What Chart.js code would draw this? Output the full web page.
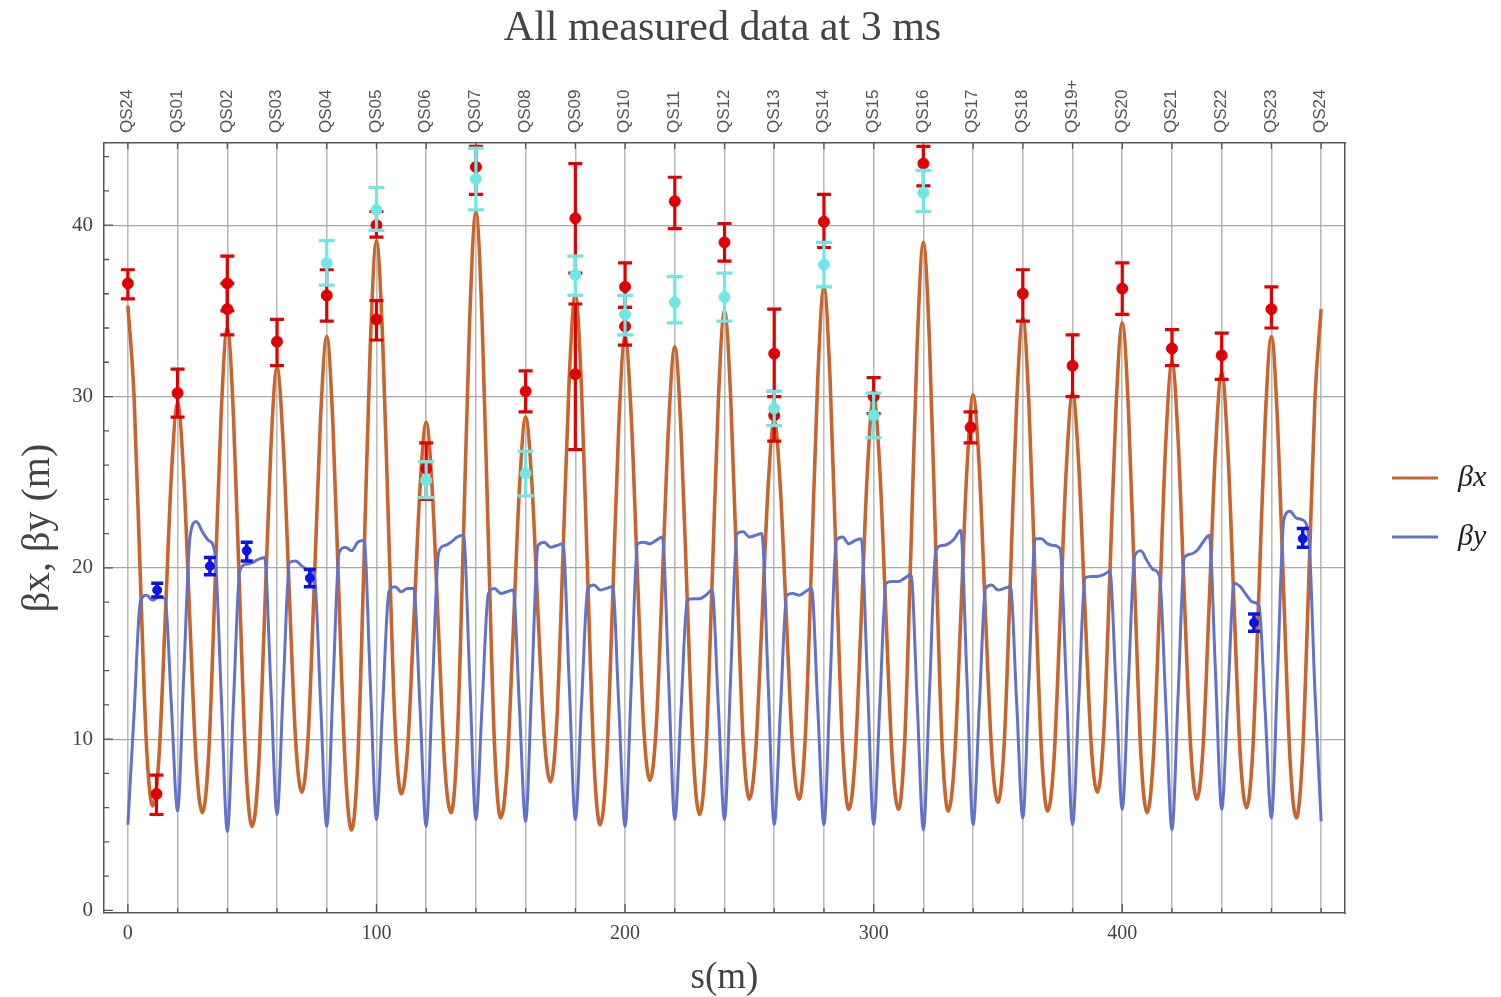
<!DOCTYPE html>
<html><head><meta charset="utf-8">
<script src="https://cdn.jsdelivr.net/npm/chart.js@4.4.0/dist/chart.umd.min.js"></script>
<style>html,body{margin:0;padding:0;background:#fff;}</style>
</head><body>
<canvas id="c" width="1501" height="997"></canvas>
<script>
// ---- data ----
const sGrid = [0,2.5,5,7.5,10,12.5,15,17.5,20,22.5,25,27.5,30,32.5,35,37.5,40,42.5,45,47.5,50,52.5,55,57.5,60,62.5,65,67.5,70,72.5,75,77.5,80,82.5,85,87.5,90,92.5,95,97.5,100,102.5,105,107.5,110,112.5,115,117.5,120,122.5,125,127.5,130,132.5,135,137.5,140,142.5,145,147.5,150,152.5,155,157.5,160,162.5,165,167.5,170,172.5,175,177.5,180,182.5,185,187.5,190,192.5,195,197.5,200,202.5,205,207.5,210,212.5,215,217.5,220,222.5,225,227.5,230,232.5,235,237.5,240,242.5,245,247.5,250,252.5,255,257.5,260,262.5,265,267.5,270,272.5,275,277.5,280,282.5,285,287.5,290,292.5,295,297.5,300,302.5,305,307.5,310,312.5,315,317.5,320,322.5,325,327.5,330,332.5,335,337.5,340,342.5,345,347.5,350,352.5,355,357.5,360,362.5,365,367.5,370,372.5,375,377.5,380,382.5,385,387.5,390,392.5,395,397.5,400,402.5,405,407.5,410,412.5,415,417.5,420,422.5,425,427.5,430,432.5,435,437.5,440,442.5,445,447.5,450,452.5,455,457.5,460,462.5,465,467.5,470,472.5,475,477.5,480];

const betaX = [
35.3,30.0,19.5,9.6,6.1,8.9,16.9,25.4,
29.6,25.3,16.7,8.6,5.7,9.1,18.7,28.9,
34.0,28.8,18.3,8.4,4.9,8.1,17.2,26.9,
31.7,27.2,18.3,9.9,6.9,10.1,19.1,28.7,
33.5,28.3,17.9,8.2,4.7,8.8,20.5,32.9,
39.1,33.3,21.7,10.7,6.8,9.4,16.8,24.6,
28.5,24.4,16.2,8.4,5.7,9.9,21.8,34.5,
40.8,34.4,21.7,9.6,5.4,8.2,16.2,24.6,
28.8,25.0,17.3,10.1,7.5,10.9,20.6,30.9,
36.0,30.4,19.3,8.7,5.0,8.4,18.1,28.4,
33.5,28.8,19.5,10.7,7.6,10.6,19.2,28.3,
32.9,28.0,18.2,8.9,5.6,9.1,19.1,29.7,
35.0,29.9,19.6,9.9,6.5,9.2,16.7,24.6,
28.6,24.6,16.7,9.2,6.5,10.1,20.3,31.0,
36.4,30.9,19.9,9.6,5.9,8.8,17.0,25.7,
30.0,25.7,17.0,8.8,5.9,9.9,21.1,33.0,
39.0,33.0,21.1,9.8,5.8,8.7,17.0,25.7,
30.1,25.8,17.2,9.2,6.3,9.7,19.3,29.5,
34.6,29.4,19.0,9.3,5.8,8.7,17.0,25.8,
30.2,26.0,17.6,9.7,6.9,10.2,19.5,29.4,
34.3,29.2,18.9,9.1,5.7,8.9,17.8,27.3,
32.0,27.4,18.2,9.6,6.5,9.5,18.0,26.9,
31.4,26.8,17.7,9.0,6.0,9.3,18.7,28.6,
33.5,28.4,18.3,8.8,5.4,9.0,19.1,29.8,
35.1];

const betaY = [
5.0,11.5,18.0,18.4,18.1,18.3,18.2,12.0,
5.8,13.8,21.8,22.7,22.1,21.6,20.9,12.8,
4.6,12.2,19.8,20.2,20.3,20.5,20.6,13.1,
5.6,13.0,20.3,20.4,20.1,19.9,19.6,12.2,
4.9,13.0,20.9,21.2,21.0,21.5,21.6,13.4,
5.3,12.0,18.6,18.9,18.6,18.8,18.8,11.9,
4.9,13.0,20.9,21.3,21.5,21.8,21.9,13.6,
5.3,12.0,18.5,18.8,18.5,18.6,18.7,11.9,
5.2,13.3,21.3,21.5,21.2,21.3,21.4,13.4,
5.3,12.1,18.8,19.0,18.7,18.8,18.9,11.9,
4.9,13.2,21.4,21.5,21.4,21.6,21.8,13.6,
5.3,11.7,18.1,18.2,18.2,18.4,18.7,12.0,
5.3,13.7,22.0,22.1,21.8,21.9,22.0,13.5,
5.0,11.7,18.4,18.5,18.4,18.6,18.8,11.9,
5.0,13.3,21.6,21.8,21.4,21.6,21.7,13.4,
5.0,12.1,19.1,19.2,19.2,19.4,19.6,12.2,
4.7,12.9,21.0,21.3,21.4,21.7,22.2,13.6,
5.0,11.9,18.8,19.0,18.7,18.8,18.9,12.2,
5.4,13.6,21.7,21.7,21.4,21.3,21.1,13.1,
5.0,12.2,19.4,19.5,19.5,19.6,19.8,12.9,
5.9,13.4,20.7,21.0,20.4,19.9,19.5,12.1,
4.7,12.7,20.6,20.8,21.0,21.5,21.9,13.9,
5.9,12.5,19.1,18.9,18.4,18.0,17.8,11.6,
5.4,14.0,22.8,23.3,22.9,22.8,21.8,12.8,
5.2];

const quadS = [0,20,40,60,80,100,120,140,160,180,200,220,240,260,280,300,320,340,360,380,400,420,440,460,480];
const quadNames = ['QS24','QS01','QS02','QS03','QS04','QS05','QS06','QS07','QS08','QS09','QS10','QS11','QS12','QS13','QS14','QS15','QS16','QS17','QS18','QS19+','QS20','QS21','QS22','QS23','QS24'];
const yMajor = [0,10,20,30,40];

// measured beta-x (red)
const redS   = [0,11.5,20,40,40,60,80,100,100,120,140,160,180,180,200,200,220,240,260,260,280,300,320,339,360,380,400,420,440,460];
const redVal = [36.6,6.8,30.2,36.6,35.1,33.2,35.9,40.0,34.5,25.8,43.4,30.3,40.4,31.3,36.4,34.1,41.4,39.0,32.5,28.9,40.2,30.0,43.6,28.2,36.0,31.8,36.3,32.8,32.4,35.1];
const redLo  = [35.7,5.6,28.8,35.0,33.6,31.8,34.4,39.3,33.3,24.0,41.8,29.1,37.2,26.9,35.2,33.0,39.8,37.9,30.0,27.4,38.7,29.0,42.3,27.3,34.4,30.0,34.8,31.8,31.0,34.0];
const redHi  = [37.4,7.9,31.6,38.2,36.6,34.5,37.4,40.8,35.6,27.3,44.6,31.5,43.6,35.4,37.8,35.2,42.8,40.1,35.1,30.3,41.8,31.1,44.6,29.1,37.4,33.6,37.8,33.9,33.7,36.4];

// measured (cyan)
const cyanS   = [80,100,120,140,160,180,200,220,240,260,280,300,320];
const cyanVal = [37.8,40.9,25.1,42.7,25.5,37.1,34.8,35.5,35.8,29.3,37.7,28.9,41.9];
const cyanLo  = [36.5,39.7,24.1,40.9,24.2,35.9,33.6,34.3,34.4,28.3,36.4,27.6,40.8];
const cyanHi  = [39.1,42.2,26.2,44.5,26.8,38.2,35.9,37.0,37.2,30.3,39.0,30.2,43.2];

// measured beta-y (blue)
const blueS   = [11.8,33.0,47.8,73.2,453.0,472.6];
const blueVal = [18.7,20.1,21.0,19.4,16.8,21.7];
const blueLo  = [18.3,19.6,20.4,18.9,16.3,21.2];
const blueHi  = [19.1,20.6,21.5,19.9,17.3,22.3];

// ---- styling ----
const SERIF = "'Liberation Serif','DejaVu Serif',serif";
const SANS = "'Liberation Sans','DejaVu Sans',sans-serif";
const ORANGE = '#C9652C', BLUE = '#6272CC', RED = '#E00000', CYAN = '#70E6E6', DBLUE = '#0A14E6';
const FRAME = '#555555';

const pts = (xs, ys) => xs.map((x, i) => ({x: x, y: ys[i]}));

const errorBars = {
  id: 'errorBars',
  beforeDatasetDraw(chart, args) {
    const ds = chart.data.datasets[args.index];
    if (!ds.errLo) return;
    const ctx = chart.ctx, xs = chart.scales.x, ys = chart.scales.y;
    ctx.save();
    ctx.strokeStyle = ds.errColor;
    ctx.lineWidth = ds.errWidth;
    ds.data.forEach((p, i) => {
      const px = xs.getPixelForValue(p.x);
      const yl = ys.getPixelForValue(ds.errLo[i]);
      const yh = ys.getPixelForValue(ds.errHi[i]);
      const c = ds.capHalf;
      ctx.beginPath();
      ctx.moveTo(px, yl); ctx.lineTo(px, yh);
      ctx.moveTo(px - c, yl); ctx.lineTo(px + c, yl);
      ctx.moveTo(px - c, yh); ctx.lineTo(px + c, yh);
      ctx.stroke();
    });
    ctx.restore();
  }
};

const frameTicks = {
  id: 'frameTicks',
  beforeDatasetsDraw(chart) {
    const ctx = chart.ctx, a = chart.chartArea, xs = chart.scales.x, ys = chart.scales.y;
    ctx.save();
    ctx.strokeStyle = FRAME;
    ctx.lineWidth = 1.3;
    ctx.beginPath();
    quadS.forEach(v => {
      const px = xs.getPixelForValue(v);
      const len = (v % 100 === 0) ? 9 : 5;
      ctx.moveTo(px, a.bottom); ctx.lineTo(px, a.bottom - len);
      ctx.moveTo(px, a.top); ctx.lineTo(px, a.top + 6);
    });
    for (let v = 0; v <= 44; v += 2) {
      const py = ys.getPixelForValue(v);
      const len = (v % 10 === 0) ? 9 : 5;
      ctx.moveTo(a.left, py); ctx.lineTo(a.left + len, py);
    }
    ctx.stroke();
    ctx.restore();
  }
};

const sideLegend = {
  id: 'sideLegend',
  afterDraw(chart) {
    const ctx = chart.ctx;
    const items = chart.data.datasets.filter(d => d.inLegend);
    ctx.save();
    items.forEach((d, i) => {
      const y = 478 + i * 59;
      ctx.strokeStyle = d.borderColor;
      ctx.lineWidth = 3;
      ctx.beginPath(); ctx.moveTo(1392, y); ctx.lineTo(1438, y); ctx.stroke();
      ctx.fillStyle = '#222';
      ctx.font = "italic 30px " + SERIF;
      ctx.textBaseline = 'middle';
      ctx.textAlign = 'left';
      ctx.fillText(d.label, 1458, y);
    });
    ctx.restore();
  }
};

new Chart(document.getElementById('c'), {
  type: 'line',
  data: {
    datasets: [
      {label: 'βx', data: pts(sGrid, betaX), borderColor: ORANGE, borderWidth: 3.6, pointRadius: 0,
       cubicInterpolationMode: 'monotone', order: 6, inLegend: true},
      {label: 'βy', data: pts(sGrid, betaY), borderColor: BLUE, borderWidth: 3, pointRadius: 0,
       cubicInterpolationMode: 'monotone', order: 5, inLegend: true},
      {type: 'scatter', label: 'βx measured', data: pts(redS, redVal), backgroundColor: RED, borderColor: RED,
       pointRadius: 5.5, errLo: redLo, errHi: redHi, errColor: RED, errWidth: 3.2, capHalf: 7, order: 3},
      {type: 'scatter', label: 'measured (cyan)', data: pts(cyanS, cyanVal), backgroundColor: CYAN, borderColor: CYAN,
       pointRadius: 5.5, errLo: cyanLo, errHi: cyanHi, errColor: CYAN, errWidth: 3.2, capHalf: 8, order: 2},
      {type: 'scatter', label: 'βy measured', data: pts(blueS, blueVal), backgroundColor: DBLUE, borderColor: DBLUE,
       pointRadius: 4.5, errLo: blueLo, errHi: blueHi, errColor: DBLUE, errWidth: 3.5, capHalf: 6, order: 1}
    ]
  },
  options: {
    responsive: false, animation: false, devicePixelRatio: 1,
    layout: {padding: {left: 0, right: 56, top: 0, bottom: 0}},
    plugins: {
      legend: {display: false},
      tooltip: {enabled: false},
      title: {display: true, text: 'All measured data at 3 ms', color: '#444',
              font: {family: SERIF, size: 42, weight: 'normal'}, padding: {top: 4, bottom: 0}}
    },
    scales: {
      x: {
        type: 'linear', position: 'bottom', min: -9.6, max: 489.6,
        afterBuildTicks: s => { s.ticks = quadS.map(v => ({value: v})); },
        afterFit: s => { s.height = 84; },
        ticks: {autoSkip: false, minRotation: 0, maxRotation: 0, padding: 9, color: '#444',
                font: {family: SERIF, size: 20}, callback: v => (v % 100 === 0 ? String(v) : '')},
        grid: {color: '#bdbdbd', lineWidth: 1.6, drawTicks: false},
        border: {display: true, color: FRAME, width: 1.5},
        title: {display: true, text: 's(m)', color: '#444', font: {family: SERIF, size: 37, lineHeight: 1}, padding: {top: 0, bottom: 0}}
      },
      x2: {
        type: 'linear', position: 'top', min: -9.6, max: 489.6,
        afterBuildTicks: s => { s.ticks = quadS.map(v => ({value: v})); },
        afterFit: s => { s.height = 88.6; },
        ticks: {autoSkip: false, minRotation: 90, maxRotation: 90, padding: 10, labelOffset: 20, color: '#555',
                font: {family: SANS, size: 17}, callback: (v, i) => quadNames[i]},
        grid: {display: false, drawTicks: false},
        border: {display: true, color: FRAME, width: 1.5}
      },
      y: {
        type: 'linear', position: 'left', min: -0.15, max: 44.8,
        afterBuildTicks: s => { s.ticks = yMajor.map(v => ({value: v})); },
        afterFit: s => { s.width = 104; },
        ticks: {padding: 11, color: '#444', font: {family: SERIF, size: 21}},
        grid: {color: c => (c.tick && c.tick.value === 0 ? 'rgba(0,0,0,0)' : '#a8a8a8'), lineWidth: 1.2, drawTicks: false},
        border: {display: true, color: FRAME, width: 1.5},
        title: {display: true, text: 'βx, βy (m)', color: '#444', font: {family: SERIF, size: 40, lineHeight: 1}, padding: {top: 18, bottom: 0}}
      },
      y2: {
        type: 'linear', position: 'right', min: -0.15, max: 44.8,
        afterFit: s => { s.width = 100; },
        ticks: {display: false},
        grid: {display: false, drawTicks: false},
        border: {display: true, color: FRAME, width: 1.5}
      }
    }
  },
  plugins: [errorBars, frameTicks, sideLegend]
});
</script>
</body></html>
